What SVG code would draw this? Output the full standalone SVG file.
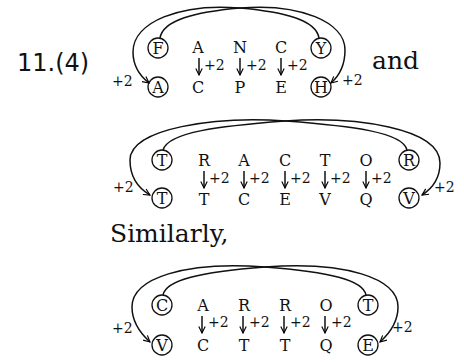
<svg xmlns="http://www.w3.org/2000/svg" width="464" height="364" viewBox="0 0 464 364">
<defs>
<marker id="ah" viewBox="0 0 10 10" refX="9" refY="5" markerWidth="8" markerHeight="8" markerUnits="userSpaceOnUse" orient="auto">
<path d="M1,1 L9,5 L1,9" fill="none" stroke="#000" stroke-width="1.4"/>
</marker>
<style>
.big{font-family:"DejaVu Serif",serif;font-size:25px;fill:#111}
.num{font-family:"DejaVu Sans",sans-serif;font-size:24px;fill:#111}
.l{font-family:"DejaVu Serif",serif;font-size:16px;fill:#111;text-anchor:middle}
.p{font-family:"DejaVu Serif",serif;font-size:14px;fill:#111}
.c{fill:none;stroke:#111;stroke-width:1.3}
.cv{fill:none;stroke:#111;stroke-width:1.5;marker-end:url(#ah)}
.da{fill:none;stroke:#111;stroke-width:1.5;marker-end:url(#ah)}
</style>
</defs>
<rect width="464" height="364" fill="#fff"/>

<text class="num" x="17" y="71">11.(4)</text>
<text class="big" x="372" y="69">and</text>
<text class="big" x="110" y="242">Similarly,</text>

<!-- Block 1 -->
<g id="b1-F"><circle class="c" cx="158" cy="48" r="10"/><text class="l" x="158" y="53.8">F</text></g>
<g id="b1-A2"><circle class="c" cx="158" cy="87" r="10"/><text class="l" x="158" y="92.8">A</text></g>
<g id="b1-Y"><circle class="c" cx="321" cy="48" r="10"/><text class="l" x="321" y="53.8">Y</text></g>
<g id="b1-H"><circle class="c" cx="321" cy="87" r="10"/><text class="l" x="321" y="92.8">H</text></g>
<g id="b1-col1"><text class="l" x="198" y="53">A</text><text class="l" x="198" y="93">C</text><text class="p" x="204" y="70">+2</text></g>
<g id="b1-col2"><text class="l" x="240" y="53">N</text><text class="l" x="240" y="93">P</text><text class="p" x="246" y="70">+2</text></g>
<g id="b1-col3"><text class="l" x="281" y="53">C</text><text class="l" x="281" y="93">E</text><text class="p" x="287" y="70">+2</text></g>
<text class="p" x="112" y="86">+2</text>
<text class="p" x="342" y="85">+2</text>

<!-- Block 2 -->
<g id="b2-T"><circle class="c" cx="162" cy="160" r="10"/><text class="l" x="162" y="165.8">T</text></g>
<g id="b2-T2"><circle class="c" cx="162" cy="198" r="10"/><text class="l" x="162" y="203.8">T</text></g>
<g id="b2-R"><circle class="c" cx="409" cy="160" r="10"/><text class="l" x="409" y="165.8">R</text></g>
<g id="b2-V"><circle class="c" cx="409" cy="198" r="10"/><text class="l" x="409" y="203.8">V</text></g>
<g id="b2-col1"><text class="l" x="204" y="166">R</text><text class="l" x="204" y="205">T</text><text class="p" x="209" y="183">+2</text></g>
<g id="b2-col2"><text class="l" x="244" y="166">A</text><text class="l" x="244" y="205">C</text><text class="p" x="249" y="183">+2</text></g>
<g id="b2-col3"><text class="l" x="285" y="166">C</text><text class="l" x="285" y="205">E</text><text class="p" x="290" y="183">+2</text></g>
<g id="b2-col4"><text class="l" x="325" y="166">T</text><text class="l" x="325" y="205">V</text><text class="p" x="330" y="183">+2</text></g>
<g id="b2-col5"><text class="l" x="366" y="166">O</text><text class="l" x="366" y="205">Q</text><text class="p" x="371" y="183">+2</text></g>
<text class="p" x="113" y="192">+2</text>
<text class="p" x="434" y="192">+2</text>

<!-- Block 3 -->
<g id="b3-C"><circle class="c" cx="162" cy="305" r="10"/><text class="l" x="162" y="310.8">C</text></g>
<g id="b3-V"><circle class="c" cx="162" cy="345" r="10"/><text class="l" x="162" y="350.8">V</text></g>
<g id="b3-T"><circle class="c" cx="368" cy="305" r="10"/><text class="l" x="368" y="310.8">T</text></g>
<g id="b3-E"><circle class="c" cx="368" cy="345" r="10"/><text class="l" x="368" y="350.8">E</text></g>
<g id="b3-col1"><text class="l" x="203" y="311">A</text><text class="l" x="203" y="351">C</text><text class="p" x="208" y="327">+2</text></g>
<g id="b3-col2"><text class="l" x="244" y="311">R</text><text class="l" x="244" y="351">T</text><text class="p" x="249" y="327">+2</text></g>
<g id="b3-col3"><text class="l" x="285" y="311">R</text><text class="l" x="285" y="351">T</text><text class="p" x="290" y="327">+2</text></g>
<g id="b3-col4"><text class="l" x="326" y="311">O</text><text class="l" x="326" y="351">Q</text><text class="p" x="331" y="327">+2</text></g>
<text class="p" x="112" y="333">+2</text>
<text class="p" x="392" y="332">+2</text>

<g id="connectors">
<path class="cv" d="M160,38 C163,20 195,12 240,8 C300,3 345,22 345,50 C345,66 339,76 331,83"/>
<path class="cv" d="M319,38 C316,20 285,12 240,8 C180,3 133,22 133,52 C133,66 140,76 149,83"/>
<path class="da" d="M199,58 L199,75"/>
<path class="da" d="M240,58 L240,75"/>
<path class="da" d="M281,58 L281,75"/>

<path class="cv" d="M163,150 C168,132 220,126 285,121 C355,116 440,128 440,163 C440,178 433,188 422,195"/>
<path class="cv" d="M407,150 C403,132 351,126 286,121 C216,116 130,128 130,160 C130,176 138,188 150,195"/>
<path class="da" d="M204,171 L204,188"/>
<path class="da" d="M244,171 L244,188"/>
<path class="da" d="M285,171 L285,188"/>
<path class="da" d="M325,171 L325,188"/>
<path class="da" d="M366,171 L366,188"/>

<path class="cv" d="M163,295 C166,280 200,272 265,267 C345,261 398,278 398,307 C398,322 390,333 380,342"/>
<path class="cv" d="M366,295 C363,280 330,272 265,267 C185,261 132,278 132,307 C132,322 140,333 150,342"/>
<path class="da" d="M202,316 L202,333"/>
<path class="da" d="M243,316 L243,333"/>
<path class="da" d="M284,316 L284,333"/>
<path class="da" d="M325,316 L325,333"/>
</g>
</svg>
